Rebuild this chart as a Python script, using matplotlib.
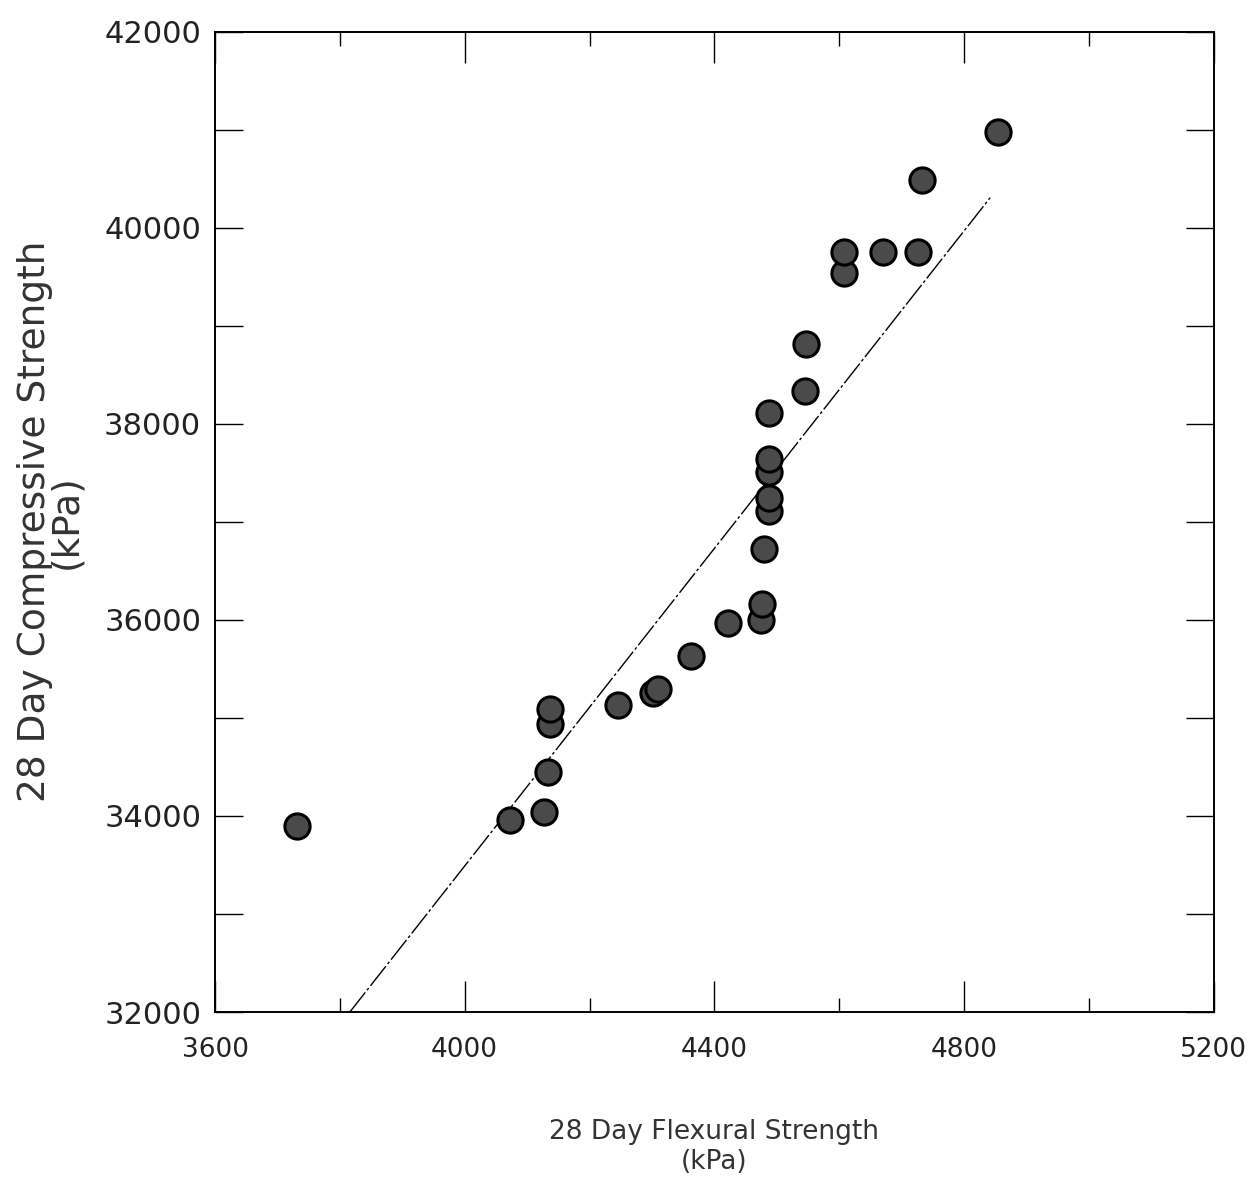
import matplotlib
matplotlib.use("Agg")
import matplotlib.pyplot as plt
from matplotlib.ticker import MultipleLocator

# Data (kPa)
flexural = [3731, 4073, 4127, 4134, 4137, 4137, 4246, 4302, 4310, 4363,
            4422, 4475, 4477, 4480, 4487, 4487, 4487, 4487, 4487, 4546,
            4547, 4607, 4607, 4671, 4727, 4732, 4854]
compressive = [33898, 33959, 34041, 34449, 34939, 35092, 35133, 35255, 35296, 35633,
               35969, 36000, 36163, 36724, 37112, 37245, 37510, 37643, 38112, 38337,
               38816, 39541, 39755, 39755, 39755, 40490, 40980]

# Regression line end points
fit_x = [3816, 4842]
fit_y = [32000, 40306]

x_ticks = [3600, 4000, 4400, 4800, 5200]
y_ticks = [32000, 34000, 36000, 38000, 40000, 42000]

plt.rcParams['font.family'] = ['DejaVu Sans']

fig = plt.figure(figsize=(12.53, 11.87), dpi=100)
ax = fig.add_axes([0.1716, 0.1474, 0.797, 0.826])

ax.plot(fit_x, fit_y, color='black', lw=1.0, linestyle=(0, (18, 2, 2, 2)), zorder=2)
ax.scatter(flexural, compressive, s=330, facecolor='#4a4a4a', edgecolor='black',
           linewidth=2.2, zorder=3)

ax.set_xlim(3600, 5200)
ax.set_ylim(32000, 42000)
ax.set_xticks(x_ticks)
ax.set_yticks(y_ticks)
ax.set_xticklabels([str(v) for v in x_ticks], fontsize=19, color='#222222')
ax.set_yticklabels([str(v) for v in y_ticks], fontsize=22, color='#222222')
ax.xaxis.set_minor_locator(MultipleLocator(200))
ax.yaxis.set_minor_locator(MultipleLocator(1000))
ax.tick_params(axis='both', which='both', direction='in', top=True, right=True)
ax.tick_params(axis='x', which='major', length=22, width=1.0, pad=18)
ax.tick_params(axis='x', which='minor', length=10, width=1.0)
ax.tick_params(axis='y', which='major', length=20, width=1.0, pad=10)
ax.tick_params(axis='y', which='minor', length=20, width=1.0)
for sp in ax.spines.values():
    sp.set_linewidth(1.4)

ax.set_xlabel("28 Day Flexural Strength\n(kPa)", fontsize=19, color='#333333',
              labelpad=40, linespacing=1.2)
ax.set_ylabel("28 Day Compressive Strength\n(kPa)", fontsize=27, color='#333333',
              labelpad=14, linespacing=0.85)

fig.savefig("out.png", dpi=100)
